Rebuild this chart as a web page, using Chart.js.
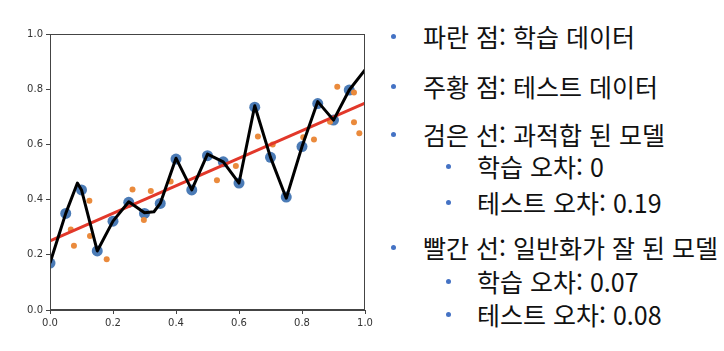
<!DOCTYPE html>
<html lang="ko">
<head>
  <meta charset="UTF-8">
  <title>과적합과 일반화</title>
  <style>
    body {
      margin: 0;
      width: 724px;
      height: 351px;
      background: #ffffff;
      position: relative;
      overflow: hidden;
      font-family: "Noto Sans CJK KR", "Noto Sans", sans-serif;
      color: #111111;
    }
    #chartBox {
      position: absolute;
      left: 0;
      top: 0;
      width: 380px;
      height: 340px;
    }
    .item {
      position: absolute;
      font-size: 25px;
      line-height: 30px;
      white-space: nowrap;
    }
    .item::before {
      content: "";
      position: absolute;
      width: 5px;
      height: 5px;
      border-radius: 50%;
      background: #4472c4;
      top: 13px;
    }
    .main { left: 423px; }
    .main::before { left: -32px; }
    .sub { left: 477px; }
    .sub::before { left: -31px; }
  </style>
</head>
<body>
  <div id="chartBox"><canvas id="chartFit"></canvas></div>

  <div class="item main" style="top:21px">파란 점: 학습 데이터</div>
  <div class="item main" style="top:71px">주황 점: 테스트 데이터</div>
  <div class="item main" style="top:119px">검은 선: 과적합 된 모델</div>
  <div class="item sub" style="top:151px">학습 오차: 0</div>
  <div class="item sub" style="top:187px">테스트 오차: 0.19</div>
  <div class="item main" style="top:232px">빨간 선: 일반화가 잘 된 모델</div>
  <div class="item sub" style="top:266px">학습 오차: 0.07</div>
  <div class="item sub" style="top:299px">테스트 오차: 0.08</div>

  <script src="https://cdn.jsdelivr.net/npm/chart.js"></script>
  <script>
    // 학습 데이터 (파란 점)
    const trainX = [0, 0.05, 0.1, 0.15, 0.2, 0.25, 0.3, 0.35, 0.4, 0.45,
                    0.5, 0.55, 0.6, 0.65, 0.7, 0.75, 0.8, 0.85, 0.9, 0.95];
    const trainY = [0.17, 0.35, 0.435, 0.214, 0.322, 0.39, 0.35, 0.386, 0.547, 0.435,
                    0.559, 0.537, 0.46, 0.735, 0.553, 0.409, 0.592, 0.748, 0.688, 0.797];

    // 테스트 데이터 (주황 점)
    const testX = [0.066, 0.076, 0.125, 0.127, 0.18, 0.262, 0.298, 0.32, 0.383, 0.53,
                   0.59, 0.66, 0.707, 0.804, 0.838, 0.889, 0.912, 0.965, 0.965, 0.982];
    const testY = [0.292, 0.233, 0.396, 0.268, 0.184, 0.437, 0.326, 0.431, 0.466, 0.47,
                   0.522, 0.629, 0.6, 0.626, 0.618, 0.682, 0.809, 0.788, 0.68, 0.64];

    // 과적합 모델 (검은 선)
    const overX = [0, 0.05, 0.087, 0.1, 0.15, 0.2, 0.25, 0.3, 0.33, 0.35,
                   0.4, 0.45, 0.5, 0.55, 0.6, 0.65, 0.7, 0.75, 0.8, 0.85,
                   0.9, 0.95, 1.0];
    const overY = [0.17, 0.35, 0.46, 0.435, 0.214, 0.322, 0.392, 0.352, 0.356, 0.386,
                   0.55, 0.435, 0.565, 0.537, 0.46, 0.74, 0.553, 0.405, 0.592, 0.755,
                   0.688, 0.797, 0.87];

    // 일반화 모델 (빨간 선)
    const fitX = [0, 1.0];
    const fitY = [0.25, 0.75];

    const axisTicks = [0, 0.2, 0.4, 0.6, 0.8, 1.0];

    function toPoints(xs, ys) {
      return xs.map((x, i) => ({ x: x, y: ys[i] }));
    }

    // matplotlib 같은 테두리
    const frame = {
      id: 'frame',
      afterDraw(chart) {
        const a = chart.chartArea;
        const ctx = chart.ctx;
        ctx.save();
        ctx.strokeStyle = '#444444';
        ctx.lineWidth = 1;
        ctx.strokeRect(a.left + 0.5, a.top + 0.5, a.right - a.left - 1, a.bottom - a.top - 1);
        ctx.restore();
      }
    };

    const tickOpts = {
      color: '#333333',
      font: { family: 'DejaVu Sans', size: 10 },
      padding: 3,
      callback: v => Number(v).toFixed(1)
    };

    new Chart(document.getElementById('chartFit'), {
      type: 'scatter',
      data: {
        datasets: [
          {
            label: '일반화 모델',
            data: toPoints(fitX, fitY),
            showLine: true,
            borderColor: '#e2382a',
            borderWidth: 3,
            pointRadius: 0,
            order: 2
          },
          {
            label: '과적합 모델',
            data: toPoints(overX, overY),
            showLine: true,
            borderColor: '#000000',
            borderWidth: 3,
            borderJoinStyle: 'round',
            pointRadius: 0,
            order: 1
          },
          {
            label: '학습 데이터',
            data: toPoints(trainX, trainY),
            backgroundColor: '#4b7bb6',
            borderWidth: 0,
            pointRadius: 5.5,
            order: 4
          },
          {
            label: '테스트 데이터',
            data: toPoints(testX, testY),
            backgroundColor: '#ea8a3c',
            borderWidth: 0,
            pointRadius: 3,
            order: 3
          }
        ]
      },
      options: {
        responsive: true,
        maintainAspectRatio: false,
        animation: false,
        layout: { padding: { top: 34, right: 15, left: 0, bottom: 0 } },
        plugins: {
          legend: { display: false },
          tooltip: { enabled: false }
        },
        scales: {
          x: {
            type: 'linear',
            min: 0,
            max: 1,
            afterBuildTicks: s => { s.ticks = axisTicks.map(v => ({ value: v })); },
            afterFit: s => { s.height = 30; },
            grid: { drawOnChartArea: false, drawTicks: true, tickLength: 4, color: '#444444' },
            border: { display: true, color: '#444444' },
            ticks: tickOpts
          },
          y: {
            type: 'linear',
            min: 0,
            max: 1,
            afterBuildTicks: s => { s.ticks = axisTicks.map(v => ({ value: v })); },
            afterFit: s => { s.width = 50; },
            grid: { drawOnChartArea: false, drawTicks: true, tickLength: 4, color: '#444444' },
            border: { display: true, color: '#444444' },
            ticks: tickOpts
          }
        }
      },
      plugins: [frame]
    });
  </script>
</body>
</html>
